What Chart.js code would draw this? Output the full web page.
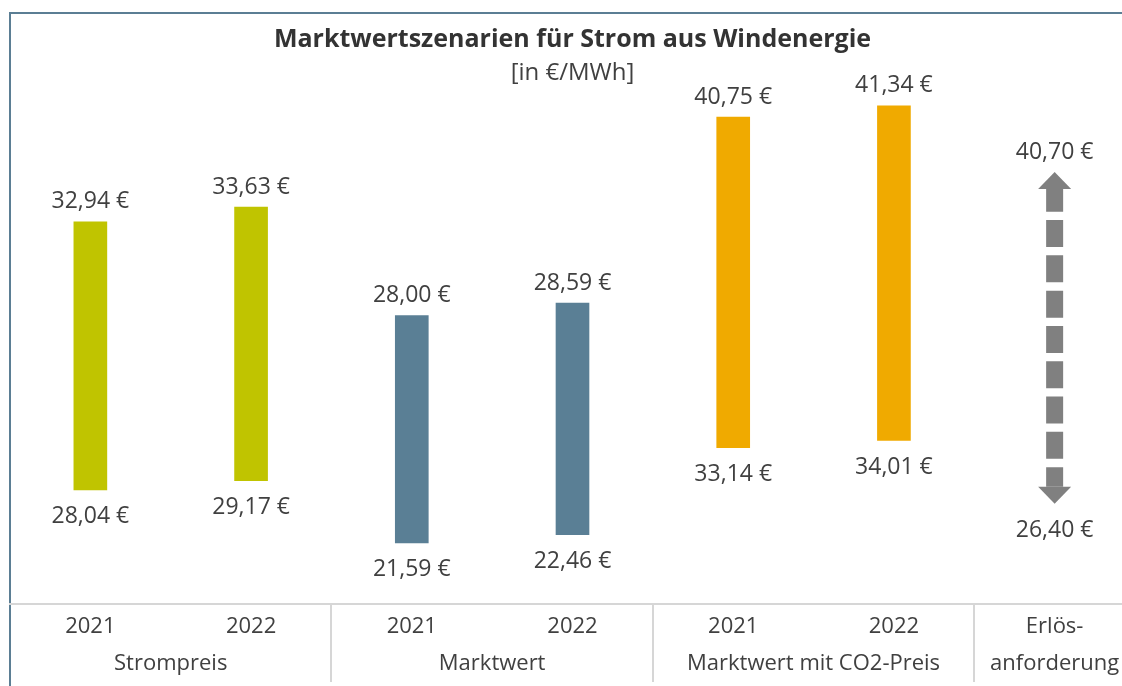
<!DOCTYPE html>
<html>
<head>
<meta charset="utf-8">
<script src="https://cdn.jsdelivr.net/npm/chart.js@4"></script>
<style>
  html, body { margin: 0; padding: 0; background: #fff; overflow: hidden; }
  #frame {
    position: absolute; left: 9px; top: 12px; width: 1300px; height: 900px;
    border-left: 2px solid #5b7e94; border-top: 2px solid #5b7e94;
  }
  #chart { position: absolute; left: 0; top: 0; }
</style>
</head>
<body>
<div id="frame"></div>
<canvas id="chart" width="1135" height="686"></canvas>
<script>
// tick labels, one per column
const tickLabels = ["2021", "2022", "2021", "2022", "2021", "2022", ["Erlös-", "anforderung"]];
// group names under each pair of years
const groups = ["Strompreis", "Marktwert", "Marktwert mit CO2-Preis"];

// values written on the chart (€/MWh)
const lowValues = [28.04, 29.17, 21.59, 22.46, 33.14, 34.01, 26.40];
const highValues = [32.94, 33.63, 28.00, 28.59, 40.75, 41.34, 40.70];

// bar ends as drawn in the original, which is not to scale
// (0 = x axis, 100 = top of the plot)
const drawnLow = [22.2, 24.0, 11.9, 13.5, 30.4, 31.8, 19.5];
const drawnHigh = [74.3, 77.2, 56.1, 58.5, 94.7, 96.9, 84.0];

const barColors = ["#c0c400", "#c0c400", "#5a7f95", "#5a7f95", "#f0aa00", "#f0aa00", "#808080"];
const ARROW_INDEX = 6; // last column is drawn as a dashed arrow, not a bar

const FONT = "'Open Sans', 'Noto Sans', sans-serif";
const TEXT = "#404040";

function euro(v) {
  return v.toFixed(2).replace(".", ",") + " €";
}

// **Value labels above and below every bar / the arrow**
const valueLabels = {
  id: "valueLabels",
  afterDatasetsDraw(chart) {
    const ctx = chart.ctx;
    const meta = chart.getDatasetMeta(0);
    const xs = chart.scales.x;
    const ys = chart.scales.y;
    ctx.save();
    ctx.font = "23px " + FONT;
    ctx.fillStyle = TEXT;
    ctx.textAlign = "center";
    ctx.textBaseline = "middle";
    for (let i = 0; i < tickLabels.length; i++) {
      let x, top, bottom;
      if (i === ARROW_INDEX) {
        x = xs.getPixelForValue(i);
        top = ys.getPixelForValue(drawnHigh[i]);
        bottom = ys.getPixelForValue(drawnLow[i]);
      } else {
        const bar = meta.data[i];
        x = bar.x;
        top = Math.min(bar.y, bar.base);
        bottom = Math.max(bar.y, bar.base);
      }
      ctx.fillText(euro(highValues[i]), x, top - 20);
      ctx.fillText(euro(lowValues[i]), x, bottom + 27);
    }
    ctx.restore();
  },
};

// **Dashed double arrow for the Erlösanforderung column**
const rangeArrow = {
  id: "rangeArrow",
  afterDatasetsDraw(chart) {
    const ctx = chart.ctx;
    const x = chart.scales.x.getPixelForValue(ARROW_INDEX);
    const top = chart.scales.y.getPixelForValue(drawnHigh[ARROW_INDEX]);
    const bottom = chart.scales.y.getPixelForValue(drawnLow[ARROW_INDEX]);
    const headH = 17, headW = 33, shaftW = 17;
    ctx.save();
    ctx.fillStyle = barColors[ARROW_INDEX];
    ctx.strokeStyle = barColors[ARROW_INDEX];
    // heads
    ctx.beginPath();
    ctx.moveTo(x, top);
    ctx.lineTo(x + headW / 2, top + headH);
    ctx.lineTo(x - headW / 2, top + headH);
    ctx.closePath();
    ctx.fill();
    ctx.beginPath();
    ctx.moveTo(x, bottom);
    ctx.lineTo(x + headW / 2, bottom - headH);
    ctx.lineTo(x - headW / 2, bottom - headH);
    ctx.closePath();
    ctx.fill();
    // dashed shaft
    ctx.lineWidth = shaftW;
    ctx.lineCap = "butt";
    ctx.setLineDash([27, 8.3]);
    ctx.lineDashOffset = 4.3;
    ctx.beginPath();
    ctx.moveTo(x, top + headH);
    ctx.lineTo(x, bottom - headH);
    ctx.stroke();
    ctx.restore();
  },
};

// **Group names and separators under the x axis**
const groupAxis = {
  id: "groupAxis",
  afterDraw(chart) {
    const ctx = chart.ctx;
    const xs = chart.scales.x;
    const area = chart.chartArea;
    ctx.save();
    ctx.font = "22px " + FONT;
    ctx.fillStyle = TEXT;
    ctx.textAlign = "center";
    ctx.textBaseline = "middle";
    groups.forEach((g, k) => {
      const x = (xs.getPixelForValue(2 * k) + xs.getPixelForValue(2 * k + 1)) / 2;
      ctx.fillText(g, x, area.bottom + 60);
    });
    ctx.strokeStyle = "#d6d6d6";
    ctx.lineWidth = 2;
    for (let k = 1; k <= groups.length; k++) {
      const x = Math.round((xs.getPixelForValue(2 * k - 1) + xs.getPixelForValue(2 * k)) / 2);
      ctx.beginPath();
      ctx.moveTo(x, area.bottom);
      ctx.lineTo(x, area.bottom + 78);
      ctx.stroke();
    }
    ctx.restore();
  },
};

const chart = new Chart(document.getElementById("chart"), {
  type: "bar",
  data: {
    labels: tickLabels,
    datasets: [
      {
        data: drawnLow.map((lo, i) => (i === ARROW_INDEX ? null : [lo, drawnHigh[i]])),
        backgroundColor: barColors,
        borderWidth: 0,
        barThickness: 33,
      },
    ],
  },
  options: {
    responsive: false,
    animation: false,
    events: [],
    layout: { padding: { left: 10, right: 0, top: 14, bottom: 0 } },
    scales: {
      x: {
        offset: true,
        grid: { display: false, drawTicks: false },
        border: { display: true, color: "#d6d6d6", width: 2 },
        ticks: {
          color: TEXT,
          font: { family: FONT, size: 22, lineHeight: 37 / 22 },
          padding: 4,
          autoSkip: false,
          maxRotation: 0,
        },
      },
      y: { display: false, min: 0, max: 100 },
    },
    plugins: {
      legend: { display: false },
      tooltip: { enabled: false },
      title: {
        display: true,
        text: "Marktwertszenarien für Strom aus Windenergie",
        color: "#333333",
        font: { family: FONT, size: 25, weight: "bold", lineHeight: 1.2 },
        padding: { top: 11, bottom: 4 },
      },
      subtitle: {
        display: true,
        text: "[in €/MWh]",
        color: TEXT,
        font: { family: FONT, size: 24, lineHeight: 1.2 },
        padding: { top: 0, bottom: 2 },
      },
    },
  },
  plugins: [rangeArrow, valueLabels, groupAxis],
});
</script>
</body>
</html>
